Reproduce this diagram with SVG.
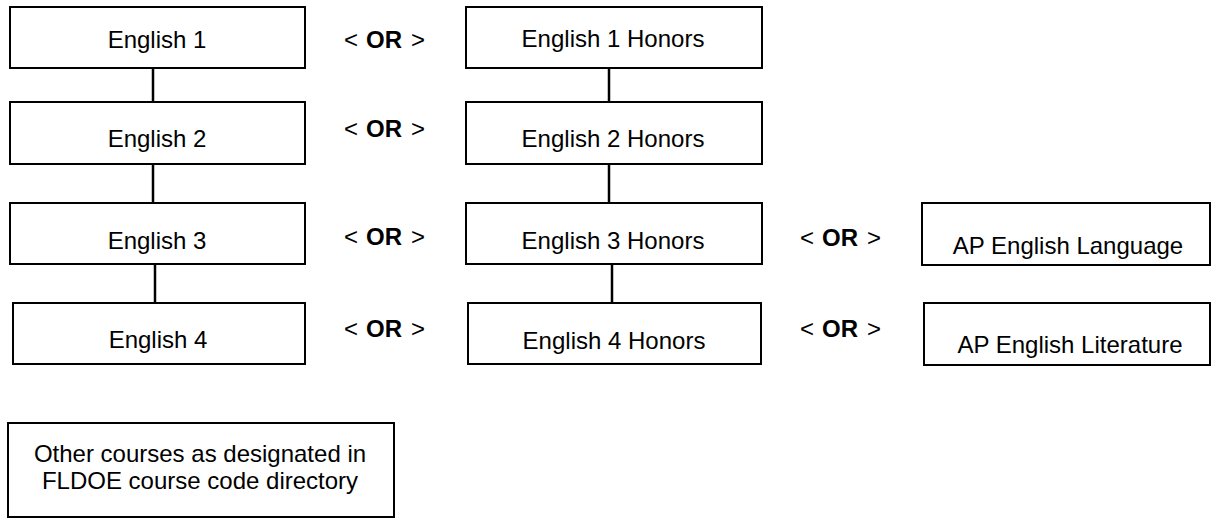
<svg xmlns="http://www.w3.org/2000/svg" width="1213" height="519" viewBox="0 0 1213 519">
<style>
.box{fill:#fff;stroke:#000;stroke-width:2}
.t{font-family:"Liberation Sans",Arial,sans-serif;font-size:24px;fill:#000;text-anchor:middle}
.or{font-family:"Liberation Sans",Arial,sans-serif;font-size:24px;fill:#000}
.b{font-weight:bold}
.c{stroke:#000;stroke-width:2.5;fill:none}
</style>
<rect width="1213" height="519" fill="#fff"/>
<g id="connectors">
<line class="c" x1="153" y1="68" x2="153" y2="102"/>
<line class="c" x1="153" y1="164" x2="153" y2="203"/>
<line class="c" x1="155" y1="264" x2="155" y2="303"/>
<line class="c" x1="609" y1="68" x2="609" y2="102"/>
<line class="c" x1="609" y1="164" x2="609" y2="203"/>
<line class="c" x1="612" y1="264" x2="612" y2="303"/>
</g>
<g id="english1"><rect class="box" x="10" y="7" width="295" height="61"/><text class="t" x="157" y="47.5">English 1</text></g>
<g id="english2"><rect class="box" x="10" y="102" width="295" height="62"/><text class="t" x="157" y="147">English 2</text></g>
<g id="english3"><rect class="box" x="10" y="203" width="295" height="61"/><text class="t" x="157" y="249">English 3</text></g>
<g id="english4"><rect class="box" x="13" y="303" width="292" height="61"/><text class="t" x="158" y="348">English 4</text></g>
<g id="honors1"><rect class="box" x="466" y="7" width="296" height="61"/><text class="t" x="613" y="46.5">English 1 Honors</text></g>
<g id="honors2"><rect class="box" x="466" y="102" width="296" height="62"/><text class="t" x="613" y="146.5">English 2 Honors</text></g>
<g id="honors3"><rect class="box" x="466" y="203" width="296" height="61"/><text class="t" x="613" y="249">English 3 Honors</text></g>
<g id="honors4"><rect class="box" x="468" y="303" width="293" height="61"/><text class="t" x="614" y="349">English 4 Honors</text></g>
<g id="aplang"><rect class="box" x="922" y="203" width="288" height="62"/><text class="t" x="1068" y="254">AP English Language</text></g>
<g id="aplit"><rect class="box" x="924" y="303" width="286" height="62"/><text class="t" x="1070" y="353">AP English Literature</text></g>
<g id="other"><rect class="box" x="8" y="423" width="386" height="94"/><text class="t" x="200" y="462">Other courses as designated in</text><text class="t" x="200" y="489">FLDOE course code directory</text></g>
<g id="or-labels">
<text class="or" y="48"><tspan x="344">&lt;</tspan><tspan class="b" x="366">OR</tspan><tspan x="411">&gt;</tspan></text>
<text class="or" y="137"><tspan x="344">&lt;</tspan><tspan class="b" x="366">OR</tspan><tspan x="411">&gt;</tspan></text>
<text class="or" y="245"><tspan x="344">&lt;</tspan><tspan class="b" x="366">OR</tspan><tspan x="411">&gt;</tspan></text>
<text class="or" y="337"><tspan x="344">&lt;</tspan><tspan class="b" x="366">OR</tspan><tspan x="411">&gt;</tspan></text>
<text class="or" y="246"><tspan x="800">&lt;</tspan><tspan class="b" x="822">OR</tspan><tspan x="867">&gt;</tspan></text>
<text class="or" y="337"><tspan x="800">&lt;</tspan><tspan class="b" x="822">OR</tspan><tspan x="867">&gt;</tspan></text>
</g>
</svg>
